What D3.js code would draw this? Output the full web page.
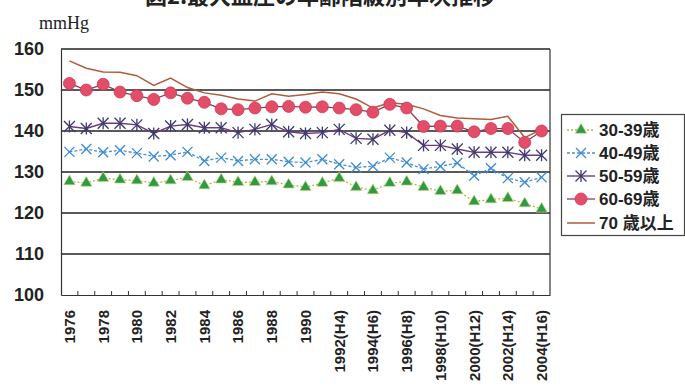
<!DOCTYPE html>
<html>
<head>
<meta charset="utf-8">
<script src="https://cdn.jsdelivr.net/npm/d3@7/dist/d3.min.js"></script>
<style>
  html, body { margin: 0; padding: 0; background: #fff; }
  svg { display: block; }
</style>
</head>
<body>
<svg id="chart" width="685" height="389"></svg>
<script>
// Survey years (1976–2004)
const years = [1976,1977,1978,1979,1980,1981,1982,1983,1984,1985,1986,1987,1988,1989,1990,
               1991,1992,1993,1994,1995,1996,1997,1998,1999,2000,2001,2002,2003,2004];

// Labels shown under every other year
const tickYears  = [1976,1978,1980,1982,1984,1986,1988,1990,1992,1994,1996,1998,2000,2002,2004];
const tickLabels = ["1976","1978","1980","1982","1984","1986","1988","1990",
                    "1992(H4)","1994(H6)","1996(H8)","1998(H10)","2000(H12)","2002(H14)","2004(H16)"];

const yTicks = [100,110,120,130,140,150,160];

// Mean systolic blood pressure (mmHg) by age group
const age30s = [127.7,127.3,128.5,128.1,127.9,127.3,127.9,128.7,126.7,128.1,127.5,127.5,127.7,126.9,126.3,
                127.3,128.5,126.3,125.5,127.3,127.6,126.3,125.3,125.5,122.8,123.3,123.6,122.3,121.0];
const age40s = [134.9,135.6,134.8,135.3,134.6,133.8,134.1,134.9,132.7,133.5,132.7,133.1,133.1,132.5,132.3,
                133.1,131.9,131.1,131.4,133.5,132.3,130.7,131.4,132.2,129.1,130.9,128.5,127.5,128.7];
const age50s = [141.1,140.6,141.9,141.9,141.5,139.4,141.2,141.6,140.8,140.8,139.6,140.4,141.6,139.8,139.4,
                139.6,140.4,138.2,138.0,140.2,139.6,136.5,136.5,135.6,134.8,134.8,134.8,134.1,134.1];
const age60s = [151.6,150.0,151.4,149.5,148.6,147.7,149.3,148.0,147.0,145.4,145.2,145.6,145.9,146.0,145.8,
                145.9,145.6,145.2,144.6,146.5,145.6,141.1,141.2,141.2,139.8,140.6,140.6,137.2,140.0];
const age70s = [157.1,155.3,154.4,154.3,153.5,151.1,152.9,150.6,149.3,148.7,147.8,147.3,149.1,148.5,148.9,
                149.5,149.1,147.8,145.6,146.9,146.5,145.4,143.8,143.2,143.0,142.8,143.6,138.4,140.4];

const seriesNames = ["30-39歳","40-49歳","50-59歳","60-69歳","70 歳以上"];

const svg = d3.select("#chart");

const plot = { left: 61, right: 550, top: 49, bottom: 295 };

const x = d3.scaleBand().domain(years).range([plot.left, plot.right]).padding(0);
const y = d3.scaleLinear().domain([100, 160]).range([plot.bottom, plot.top]);
const cx = d => x(d) + x.bandwidth() / 2;

// Title (runs off the top edge of the page)
svg.append("text")
  .attr("x", 320).attr("y", 4)
  .attr("text-anchor", "middle")
  .attr("font-family", "'Noto Sans CJK JP', sans-serif")
  .attr("font-weight", "bold")
  .attr("font-size", 22)
  .attr("fill", "#222")
  .text("図2.最大血圧の年齢階級別年次推移");

// Unit label
svg.append("text")
  .attr("x", 39).attr("y", 29)
  .attr("font-family", "'Liberation Serif', serif")
  .attr("font-size", 18)
  .attr("fill", "#222")
  .text("mmHg");

// Horizontal gridlines
svg.append("g").selectAll("line")
  .data(yTicks.filter(v => v > 100))
  .join("line")
  .attr("x1", plot.left).attr("x2", plot.right)
  .attr("y1", d => y(d)).attr("y2", d => y(d))
  .attr("stroke", "#222").attr("stroke-width", 1.4);

// Y axis
const yAxis = svg.append("g")
  .attr("transform", `translate(${plot.left},0)`)
  .call(d3.axisLeft(y).tickValues(yTicks).tickSize(0).tickPadding(17));
yAxis.select(".domain").attr("stroke", "#333").attr("stroke-width", 1.2);
yAxis.selectAll("text")
  .attr("font-family", "'Liberation Sans', Arial, sans-serif")
  .attr("font-weight", "bold")
  .attr("font-size", 18)
  .attr("fill", "#222");

// Right border
svg.append("line")
  .attr("x1", plot.right).attr("x2", plot.right)
  .attr("y1", plot.top).attr("y2", plot.bottom)
  .attr("stroke", "#333").attr("stroke-width", 1.2);

// X axis: labels under every other year
const xAxis = svg.append("g")
  .attr("transform", `translate(0,${plot.bottom})`)
  .call(d3.axisBottom(x).tickValues(tickYears).tickSize(0)
    .tickFormat(d => tickLabels[tickYears.indexOf(d)]));
xAxis.select(".domain").attr("stroke", "#333").attr("stroke-width", 1.2);
xAxis.selectAll("text")
  .attr("font-family", "'Liberation Sans', Arial, sans-serif")
  .attr("font-weight", "bold")
  .attr("font-size", 15)
  .attr("fill", "#222")
  .attr("text-anchor", "end")
  .attr("transform", "rotate(-90)")
  .attr("x", -15).attr("y", 0).attr("dy", "0.36em");

// Inward tick marks on the band boundaries
svg.append("g").selectAll("line")
  .data(years.slice(1))
  .join("line")
  .attr("x1", d => x(d)).attr("x2", d => x(d))
  .attr("y1", plot.bottom).attr("y2", plot.bottom - 4)
  .attr("stroke", "#333").attr("stroke-width", 1);

const line = d3.line().x((d, i) => cx(years[i])).y(d => y(d));

// 70+ : plain brown line
svg.append("path").datum(age70s)
  .attr("d", line).attr("fill", "none")
  .attr("stroke", "#b25a3c").attr("stroke-width", 1.5);

// 60-69 : line with red circles
svg.append("path").datum(age60s)
  .attr("d", line).attr("fill", "none")
  .attr("stroke", "#8e3a5a").attr("stroke-width", 1.3);
svg.append("g").selectAll("circle")
  .data(age60s).join("circle")
  .attr("cx", (d, i) => cx(years[i])).attr("cy", d => y(d))
  .attr("r", 6)
  .attr("fill", "#e44d68").attr("stroke", "#c93a58").attr("stroke-width", 0.8);

// 50-59 : purple line with asterisks
svg.append("path").datum(age50s)
  .attr("d", line).attr("fill", "none")
  .attr("stroke", "#6e3a7c").attr("stroke-width", 1.4);
const star = (g, size, color, w) => {
  const s = size / 2;
  g.append("line").attr("x1", -s).attr("x2", s).attr("y1", -s).attr("y2", s);
  g.append("line").attr("x1", -s).attr("x2", s).attr("y1", s).attr("y2", -s);
  g.append("line").attr("x1", 0).attr("x2", 0).attr("y1", -s * 1.1).attr("y2", s * 1.1);
  g.selectAll("line").attr("stroke", color).attr("stroke-width", w);
};
const cross = (g, size, color, w) => {
  const s = size / 2;
  g.append("line").attr("x1", -s).attr("x2", s).attr("y1", -s).attr("y2", s);
  g.append("line").attr("x1", -s).attr("x2", s).attr("y1", s).attr("y2", -s);
  g.selectAll("line").attr("stroke", color).attr("stroke-width", w);
};
svg.append("g").selectAll("g")
  .data(age50s).join("g")
  .attr("transform", (d, i) => `translate(${cx(years[i])},${y(d)})`)
  .each(function() { star(d3.select(this), 11, "#3c3a6e", 1.3); });

// 40-49 : dashed blue line with crosses
svg.append("path").datum(age40s)
  .attr("d", line).attr("fill", "none")
  .attr("stroke", "#4a8fd0").attr("stroke-width", 1.3)
  .attr("stroke-dasharray", "3,2");
svg.append("g").selectAll("g")
  .data(age40s).join("g")
  .attr("transform", (d, i) => `translate(${cx(years[i])},${y(d)})`)
  .each(function() { cross(d3.select(this), 10, "#3b8bd6", 1.3); });

// 30-39 : dotted olive line with green triangles
svg.append("path").datum(age30s)
  .attr("d", line).attr("fill", "none")
  .attr("stroke", "#b5b842").attr("stroke-width", 1.3)
  .attr("stroke-dasharray", "2,2");
const tri = d3.symbol().type(d3.symbolTriangle).size(55);
svg.append("g").selectAll("path")
  .data(age30s).join("path")
  .attr("d", tri)
  .attr("transform", (d, i) => `translate(${cx(years[i])},${y(d)})`)
  .attr("fill", "#2e9a48").attr("stroke", "#c8d86a").attr("stroke-width", 0.6);

// Legend
const lg = svg.append("g");
lg.append("rect")
  .attr("x", 561.5).attr("y", 114.5).attr("width", 123).attr("height", 121)
  .attr("fill", "#fff").attr("stroke", "#444").attr("stroke-width", 1.2);

const legendY = [130, 153, 176, 199, 223];
const lx1 = 567, lx2 = 595, lmid = 581;
const items = lg.selectAll("g.item").data(seriesNames).join("g").attr("class", "item")
  .attr("transform", (d, i) => `translate(0,${legendY[i]})`);

items.each(function(d, i) {
  const g = d3.select(this);
  if (i === 0) {
    g.append("line").attr("x1", lx1).attr("x2", lx2).attr("stroke", "#b5b842")
      .attr("stroke-width", 1.3).attr("stroke-dasharray", "2,2");
    g.append("path").attr("d", tri).attr("transform", `translate(${lmid},0)`)
      .attr("fill", "#2e9a48").attr("stroke", "#c8d86a").attr("stroke-width", 0.6);
  } else if (i === 1) {
    g.append("line").attr("x1", lx1).attr("x2", lx2).attr("stroke", "#4a8fd0")
      .attr("stroke-width", 1.3).attr("stroke-dasharray", "3,2");
    cross(g.append("g").attr("transform", `translate(${lmid},0)`), 10, "#3b8bd6", 1.3);
  } else if (i === 2) {
    g.append("line").attr("x1", lx1).attr("x2", lx2).attr("stroke", "#6e3a7c").attr("stroke-width", 1.4);
    star(g.append("g").attr("transform", `translate(${lmid},0)`), 11, "#3c3a6e", 1.3);
  } else if (i === 3) {
    g.append("line").attr("x1", lx1).attr("x2", lx2).attr("stroke", "#8e3a5a").attr("stroke-width", 1.3);
    g.append("circle").attr("cx", lmid).attr("r", 6)
      .attr("fill", "#e44d68").attr("stroke", "#c93a58").attr("stroke-width", 0.8);
  } else {
    g.append("line").attr("x1", lx1).attr("x2", lx2).attr("stroke", "#b25a3c").attr("stroke-width", 1.5);
  }
  g.append("text")
    .attr("x", 599).attr("y", 0).attr("dy", "0.36em")
    .attr("font-family", "'Liberation Sans', 'Noto Sans CJK JP', sans-serif")
    .attr("font-weight", "bold")
    .attr("font-size", 17)
    .attr("fill", "#222")
    .text(d);
});
</script>
</body>
</html>
